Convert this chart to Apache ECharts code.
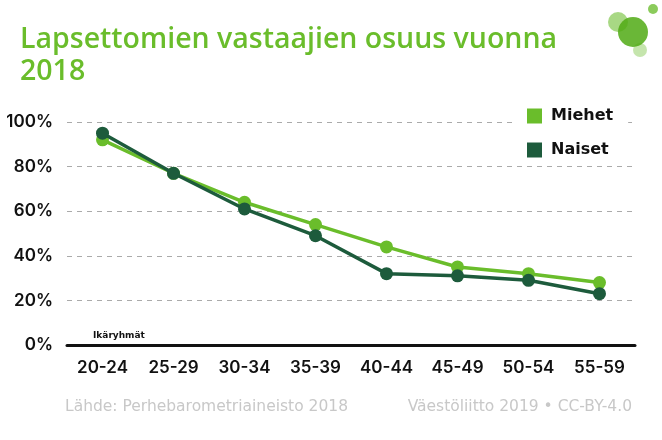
<!DOCTYPE html>
<html><head><meta charset="utf-8">
<script src="https://cdn.jsdelivr.net/npm/echarts@6/dist/echarts.min.js"></script>
<style>html,body{margin:0;padding:0;background:#fff}#c{width:662px;height:440px}</style>
</head><body><div id="c"></div>
<script>
const categories = ['20-24','25-29','30-34','35-39','40-44','45-49','50-54','55-59'];
const miehet = [92, 77, 64, 54, 44, 35, 32, 28];
const naiset = [95, 77, 61, 49, 32, 31, 29, 23];
const yTicks = [0, 20, 40, 60, 80, 100];
const FONT = 'Inter, "Noto Sans", sans-serif';
const WIDE = '"DejaVu Sans", sans-serif';
const OPEN = '"Open Sans", sans-serif';
const C_M = '#6abd2b', C_N = '#1d5b3c';
const chart = echarts.init(document.getElementById('c'));
chart.setOption({
  animation: false,
  textStyle: {fontFamily: FONT},
  title: {
    text: 'Lapsettomien vastaajien osuus vuonna\n2018',
    left: 15, top: 19,
    textStyle: {color: C_M, fontSize: 28.5, fontWeight: 600, lineHeight: 32, fontFamily: OPEN}
  },
  grid: {left: 67, right: 27, top: 122, bottom: 95},
  legend: {
    orient: 'vertical', left: 512, top: 100, itemGap: 18,
    itemWidth: 15, itemHeight: 15, icon: 'rect',
    backgroundColor: '#fff', padding: [8, 15, 8, 15],
    textStyle: {fontSize: 16, fontWeight: 'bold', color: '#111', fontFamily: WIDE, lineHeight: 15, padding: [0, 0, 0, 4]},
    data: [{name: 'Miehet', itemStyle: {color: C_M}}, {name: 'Naiset', itemStyle: {color: C_N}}]
  },
  xAxis: {
    type: 'category', data: categories, boundaryGap: true,
    axisLine: {lineStyle: {color: '#111', width: 3}},
    axisTick: {show: false},
    axisLabel: {fontSize: 17, fontWeight: 600, color: '#111', margin: 14}
  },
  yAxis: {
    type: 'value', min: 0, max: 100, interval: 20,
    axisLine: {show: false}, axisTick: {show: false},
    axisLabel: {formatter: v => yTicks.includes(v) ? v + '%' : '', fontSize: 17, fontWeight: 600, color: '#111', margin: 14},
    splitLine: {lineStyle: {color: '#aaa', type: [5, 5], width: 1}}
  },
  graphic: [
    {type: 'text', left: 93, top: 331, style: {text: 'Ikäryhmät', fontSize: 9, fontWeight: 'bold', fill: '#111', fontFamily: WIDE}},
    {type: 'text', left: 65, top: 399, style: {text: 'Lähde: Perhebarometriaineisto 2018', fontSize: 15.5, fill: '#c8c8c8', fontFamily: WIDE}},
    {type: 'text', right: 30, top: 399, style: {text: 'Väestöliitto 2019 • CC-BY-4.0', fontSize: 15.5, fill: '#c8c8c8', fontFamily: WIDE}},
    {type: 'circle', shape: {cx: 618, cy: 22, r: 10}, style: {fill: 'rgba(110,190,50,0.6)'}},
    {type: 'circle', shape: {cx: 640, cy: 50, r: 7}, style: {fill: 'rgba(110,190,50,0.4)'}},
    {type: 'circle', shape: {cx: 633, cy: 32, r: 15}, style: {fill: 'rgba(80,170,20,0.85)'}},
    {type: 'circle', shape: {cx: 653, cy: 9, r: 5}, style: {fill: 'rgba(110,190,50,0.8)'}}
  ],
  series: [
    {name: 'Miehet', type: 'line', data: miehet, symbol: 'circle', symbolSize: 13,
     lineStyle: {color: C_M, width: 3.5}, itemStyle: {color: C_M}, z: 2},
    {name: 'Naiset', type: 'line', data: naiset, symbol: 'circle', symbolSize: 13,
     lineStyle: {color: C_N, width: 3.5}, itemStyle: {color: C_N}, z: 3}
  ]
});
</script></body></html>
